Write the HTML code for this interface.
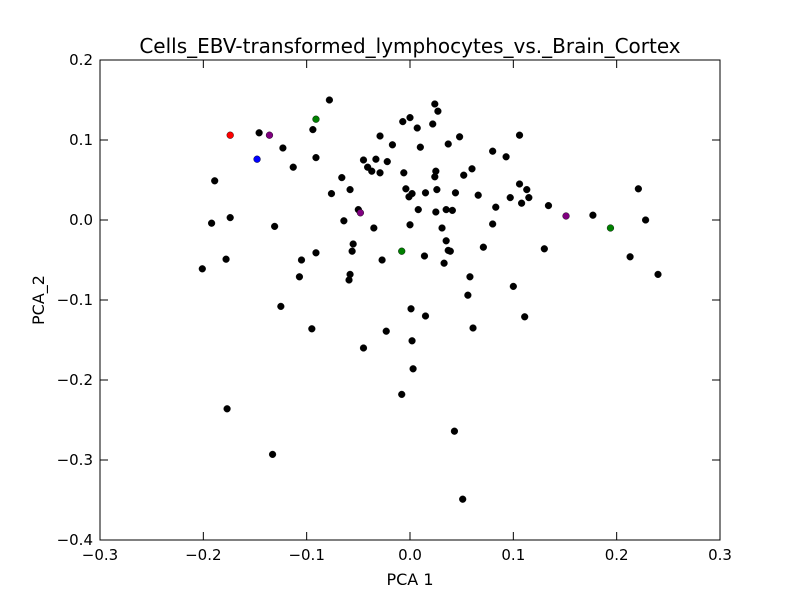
<!DOCTYPE html>
<html>
<head>
<meta charset="utf-8">
<style>
html,body{margin:0;padding:0;background:#fff;}
svg{display:block;font-family:"DejaVu Sans","Liberation Sans",sans-serif;}
</style>
</head>
<body>
<svg id="chart" width="800" height="600" viewBox="0 0 800 600">
<rect width="800" height="600" fill="#fff"/>
<text x="410" y="53" text-anchor="middle" font-size="20">Cells_EBV-transformed_lymphocytes_vs._Brain_Cortex</text>
<g id="ticks"></g>
<g id="points"></g>
<rect x="100" y="60" width="620" height="480" fill="none" stroke="#000" stroke-width="1"/>
<text x="410" y="585" text-anchor="middle" font-size="16">PCA 1</text>
<text x="44" y="300" text-anchor="middle" font-size="16" transform="rotate(-90 44 300)">PCA_2</text>
</svg>
<script>
const xTicks=[-0.3,-0.2,-0.1,0.0,0.1,0.2,0.3];
const xTickLabels=["\u22120.3","\u22120.2","\u22120.1","0.0","0.1","0.2","0.3"];
const yTicks=[0.2,0.1,0.0,-0.1,-0.2,-0.3,-0.4];
const yTickLabels=["0.2","0.1","0.0","\u22120.1","\u22120.2","\u22120.3","\u22120.4"];
const blackX=[-0.146,-0.078,-0.123,-0.094,-0.091,-0.113,-0.189,-0.192,-0.174,-0.201,-0.178,-0.131,-0.105,-0.107,-0.125,-0.095,-0.177,-0.133,-0.091,-0.076,-0.066,-0.058,-0.064,-0.050,-0.055,-0.056,-0.058,-0.059,-0.045,-0.041,-0.037,-0.033,-0.029,-0.022,-0.017,-0.029,-0.035,-0.027,-0.023,-0.045,-0.007,0.000,0.007,0.010,-0.006,-0.004,-0.001,0.002,0.008,0.000,0.015,0.014,0.001,0.002,0.003,-0.008,0.015,0.022,0.024,0.027,0.025,0.024,0.026,0.025,0.037,0.048,0.044,0.052,0.060,0.031,0.035,0.035,0.037,0.039,0.033,0.041,0.058,0.056,0.061,0.043,0.051,0.066,0.071,0.080,0.080,0.083,0.093,0.097,0.100,0.106,0.106,0.108,0.113,0.115,0.111,0.130,0.134,0.177,0.213,0.221,0.228,0.240];
const blackY=[0.109,0.150,0.090,0.113,0.078,0.066,0.049,-0.004,0.003,-0.061,-0.049,-0.008,-0.050,-0.071,-0.108,-0.136,-0.236,-0.293,-0.041,0.033,0.053,0.038,-0.001,0.013,-0.030,-0.039,-0.068,-0.075,0.075,0.066,0.061,0.076,0.105,0.073,0.094,0.059,-0.010,-0.050,-0.139,-0.160,0.123,0.128,0.115,0.091,0.059,0.039,0.029,0.033,0.013,-0.006,0.034,-0.045,-0.111,-0.151,-0.186,-0.218,-0.120,0.120,0.145,0.136,0.061,0.054,0.038,0.010,0.095,0.104,0.034,0.056,0.064,-0.010,0.013,-0.026,-0.038,-0.039,-0.054,0.012,-0.071,-0.094,-0.135,-0.264,-0.349,0.031,-0.034,0.086,-0.005,0.016,0.079,0.028,-0.083,0.106,0.045,0.021,0.038,0.028,-0.121,-0.036,0.018,0.006,-0.046,0.039,0.000,-0.068];
const redX=[-0.174], redY=[0.106];
const blueX=[-0.148], blueY=[0.076];
const purpleX=[-0.136,-0.048,0.151], purpleY=[0.106,0.009,0.005];
const greenX=[-0.091,-0.008,0.194], greenY=[0.126,-0.039,-0.010];

const NS="http://www.w3.org/2000/svg";
function sx(v){return 100+(v+0.3)/0.6*620;}
function sy(v){return 60+(0.2-v)/0.6*480;}
const tg=document.getElementById('ticks');
function mk(tag,attrs,parent){const e=document.createElementNS(NS,tag);for(const k in attrs)e.setAttribute(k,attrs[k]);parent.appendChild(e);return e;}
xTicks.forEach((v,i)=>{
  const x=sx(v);
  const t1=mk('line',{x1:x,x2:x,y1:540,y2:532,stroke:'#000'},tg);
  
  
  const t2=mk('line',{x1:x,x2:x,y1:60,y2:68,stroke:'#000'},tg);
  
  
  const l=mk('text',{x:x,y:560,'text-anchor':'middle','font-size':'15'},tg);
  l.textContent=xTickLabels[i];
  
  
});
yTicks.forEach((v,i)=>{
  const y=sy(v);
  const t1=mk('line',{x1:100,x2:108,y1:y,y2:y,stroke:'#000'},tg);
  
  
  const t2=mk('line',{x1:720,x2:712,y1:y,y2:y,stroke:'#000'},tg);
  
  
  const l=mk('text',{x:93,y:y+5,'text-anchor':'end','font-size':'15'},tg);
  l.textContent=yTickLabels[i];
  
  
});
const pg=document.getElementById('points');
function series(xs,ys,color,name){
  xs.forEach((v,i)=>{
    const c=mk('circle',{cx:sx(v),cy:sy(ys[i]),r:3.4,fill:color,stroke:'#000','stroke-width':0.4},pg);
    
    
  });
}
series(blackX,blackY,'#000','point-black');
series(redX,redY,'#ff0000','point-red');
series(blueX,blueY,'#0000ff','point-blue');
series(purpleX,purpleY,'#800080','point-purple');
series(greenX,greenY,'#008000','point-green');
</script>
</body>
</html>
